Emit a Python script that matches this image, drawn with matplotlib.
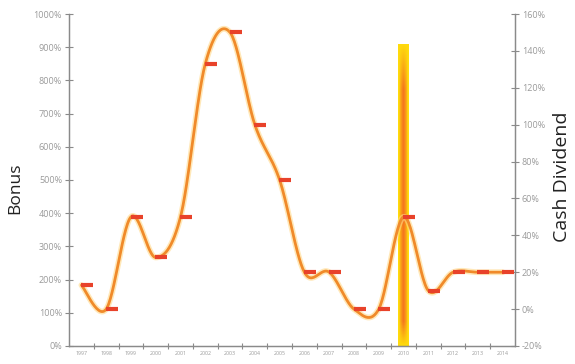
import numpy as np
import matplotlib.pyplot as plt
from matplotlib.transforms import ScaledTranslation

plt.rcParams['font.family'] = ['Open Sans', 'DejaVu Sans']

years = ['1997', '1998', '1999', '2000', '2001', '2002', '2003', '2004', '2005',
         '2006', '2007', '2008', '2009', '2010', '2011', '2012', '2013', '2014']
cash_dividend = [13, 0, 50, 28, 50, 133, 150, 100, 70, 20, 20, 0, 0, 50, 10, 20, 20, 20]
bonus_year = '2010'
bonus_value = 910

left_ticks = [0, 100, 200, 300, 400, 500, 600, 700, 800, 900, 1000]
right_ticks = [-20, 0, 20, 40, 60, 80, 100, 120, 140, 160]


def smooth(x, y, n=30):
    # catmull-rom style smoothing between the points
    x = np.asarray(x, float)
    y = np.asarray(y, float)
    px = np.concatenate([[x[0]], x, [x[-1]]])
    py = np.concatenate([[y[0]], y, [y[-1]]])
    xs, ys = [], []
    t = np.linspace(0, 1, n)
    for i in range(1, len(px) - 2):
        p0, p1, p2, p3 = py[i - 1], py[i], py[i + 1], py[i + 2]
        q0, q1, q2, q3 = px[i - 1], px[i], px[i + 1], px[i + 2]
        c1y = p1 + (p2 - p0) / 6
        c2y = p2 - (p3 - p1) / 6
        c1x = q1 + (q2 - q0) / 6
        c2x = q2 - (q3 - q1) / 6
        b = [(1 - t) ** 3, 3 * (1 - t) ** 2 * t, 3 * (1 - t) * t ** 2, t ** 3]
        xs.append(b[0] * q1 + b[1] * c1x + b[2] * c2x + b[3] * q2)
        ys.append(b[0] * p1 + b[1] * c1y + b[2] * c2y + b[3] * p2)
    return np.concatenate(xs), np.concatenate(ys)


fig = plt.figure(figsize=(5.75, 3.64), dpi=100)
ax = fig.add_axes([0.12, 0.0495, 0.7757, 0.912])
ax2 = ax.twinx()

xc = np.arange(len(years)) + 0.5
grey = '#8a8a8a'

# bonus bar with gradient fill
bi = years.index(bonus_year)
bw = 0.44
bar = ax.bar(xc[bi], bonus_value, width=bw, color='none', zorder=2)[0]
h, w = 200, 40
u = np.linspace(0, 1, w)
v = np.linspace(0, 1, h)[:, None]
hor = np.clip(1 - np.abs(2 * u - 1) * 1.3, 0, 1) ** 0.6
ver = np.clip(v / 0.15, 0, 1) * np.clip((1 - v) / 0.08, 0, 1)
f = (hor[None, :] * ver)[:, :, None]
yellow = np.array([1.0, 0.86, 0.05])
orange = np.array([0.96, 0.45, 0.12])
img = yellow * (1 - f) + orange * f
im = ax.imshow(img, extent=[xc[bi] - bw / 2, xc[bi] + bw / 2, 0, bonus_value],
               origin='upper', aspect='auto', zorder=2)
im.set_clip_path(bar)

# smoothed cash dividend line
sx, sy = smooth(xc, cash_dividend)
ax2.plot(sx, sy, color='#ffd98a', lw=4.2, alpha=0.6, solid_capstyle='round', zorder=3)
ax2.plot(sx, sy, color='#f08a2a', lw=2.0, solid_capstyle='round', zorder=4)
off = ScaledTranslation(4 / 72, 0, fig.dpi_scale_trans)
ax2.plot(xc, cash_dividend, ls='none', marker='_', ms=8.5, mew=3.0,
         color='#e8422a', zorder=5, transform=ax2.transData + off)

ax.set_xlim(0, len(years))
ax.set_ylim(0, 1000)
ax2.set_ylim(-20, 160)

ax.set_xticks(xc)
ax.set_xticklabels(years, fontsize=3.8, color='#9a9a9a')
ax.set_xticks(np.arange(1, len(years)), minor=True)
ax.tick_params(axis='x', which='major', length=0, pad=3.5)
ax.tick_params(axis='x', which='minor', length=4, direction='inout', color=grey, width=0.8)

ax.set_yticks(left_ticks)
ax.set_yticklabels([f'{t}%' for t in left_ticks], fontsize=6.5, color='#9a9a9a')
ax.tick_params(axis='y', length=6, direction='inout', color=grey, width=0.8, pad=2)
ax2.set_yticks(right_ticks)
ax2.set_yticklabels([f'{t}%' for t in right_ticks], fontsize=6.5, color='#9a9a9a')
ax2.tick_params(axis='y', length=6, direction='inout', color=grey, width=0.8, pad=2)

for a in (ax, ax2):
    a.spines['top'].set_visible(False)
    for s in ('left', 'right', 'bottom'):
        a.spines[s].set_color(grey)
        a.spines[s].set_linewidth(0.9)

ax.set_ylabel('Bonus', fontsize=12.5, color='#222222')
ax.yaxis.set_label_coords(-0.102, 0.475)
ax2.set_ylabel('Cash Dividend', fontsize=14, color='#222222')
ax2.yaxis.set_label_coords(1.085, 0.51)

fig.savefig('out.png', dpi=100)
